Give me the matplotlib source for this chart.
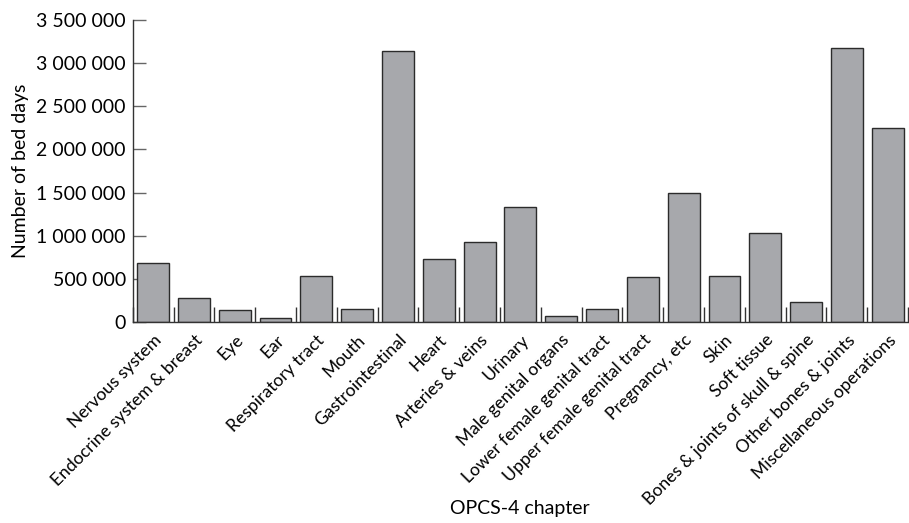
import matplotlib
matplotlib.use("Agg")

import matplotlib.pyplot as plt
import numpy as np
from matplotlib.ticker import FuncFormatter, FixedLocator

# ── Data ─────────────────────────────────────────────────────── #
chapters = [
    "Nervous system", "Endocrine system & breast", "Eye", "Ear",
    "Respiratory tract", "Mouth", "Gastrointestinal", "Heart",
    "Arteries & veins", "Urinary", "Male genital organs",
    "Lower female genital tract", "Upper female genital tract",
    "Pregnancy, etc", "Skin", "Soft tissue",
    "Bones & joints of skull & spine", "Other bones & joints",
    "Miscellaneous operations",
]
bed_days = [
    680000, 275000, 139000, 54000, 533000, 150000, 3145000, 727000,
    925000, 1330000, 66000, 154000, 518000, 1497000, 533000, 1036000,
    235000, 3172000, 2252000,
]
y_ticks = [0, 500000, 1000000, 1500000, 2000000, 2500000, 3000000, 3500000]

# ── Style ────────────────────────────────────────────────────── #
BAR_COLOR  = "#a7a8ac"
EDGE_COLOR = "#2b2b2b"
AXIS_COLOR = "#333333"
plt.rcParams["font.family"] = ["Lato", "DejaVu Sans"]

fig = plt.figure(figsize=(9.09, 5.23), dpi=100, facecolor="white")
ax = fig.add_axes([0.146, 0.384, 0.853, 0.578])

x = np.arange(len(chapters))
ax.bar(x, bed_days, width=0.78, color=BAR_COLOR, edgecolor=EDGE_COLOR,
       linewidth=1.0, zorder=2)

ax.set_xlim(-0.5, len(chapters) - 0.5)
ax.set_ylim(0, 3500000)

# y axis
ax.yaxis.set_major_locator(FixedLocator(y_ticks))
ax.yaxis.set_major_formatter(FuncFormatter(lambda v, p: f"{int(v):,}".replace(",", " ")))
ax.tick_params(axis="y", direction="in", length=9.5, width=1.0,
               color="#666666", labelsize=14, pad=5)

# x axis: labels at centres, inward ticks between bars
ax.set_xticks(x)
ax.set_xticklabels(chapters, rotation=45, ha="right", rotation_mode="anchor")
ax.tick_params(axis="x", which="major", length=0, labelsize=12.6, pad=7)
ax.set_xticks(np.arange(-0.5, len(chapters), 1), minor=True)
ax.tick_params(axis="x", which="minor", direction="in", length=10.5,
               width=1.0, color=AXIS_COLOR)

for side in ("top", "right"):
    ax.spines[side].set_visible(False)
for side in ("left", "bottom"):
    ax.spines[side].set_color(AXIS_COLOR)
    ax.spines[side].set_linewidth(1.0)

ax.set_ylabel("Number of bed days", fontsize=14, labelpad=5)
fig.text(0.572, 0.028, "OPCS-4 chapter", ha="center", va="center", fontsize=14)

fig.savefig("out.png", dpi=100, facecolor="white")
